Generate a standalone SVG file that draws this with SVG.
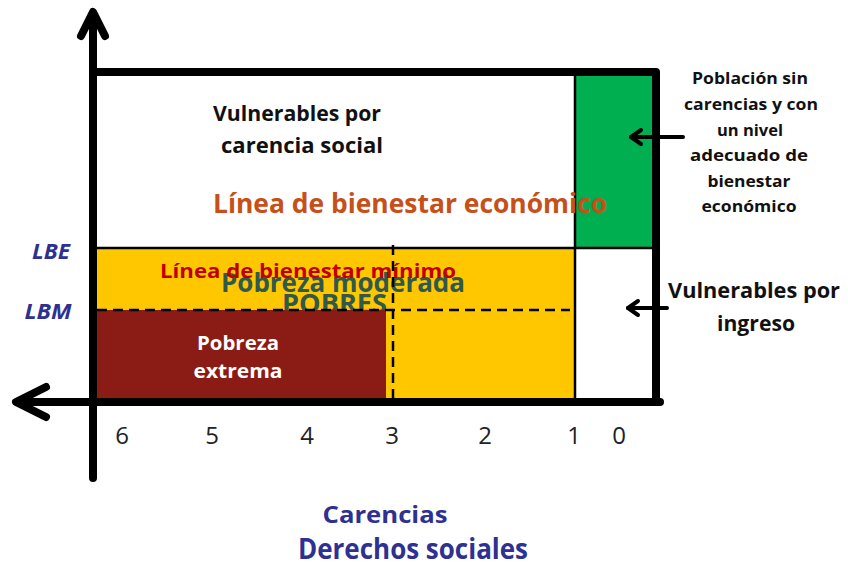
<svg xmlns="http://www.w3.org/2000/svg" width="848" height="569" viewBox="0 0 848 569">
<style>
text{font-family:"Open Sans","Noto Sans","Liberation Sans",sans-serif;font-weight:bold}
.blk{fill:#111}
.wht{fill:#fff}
.blue{fill:#2E3192}
.num{font-weight:normal;fill:#222;font-size:24px}
.ax{stroke:#000;stroke-width:8;fill:none;stroke-linecap:round;stroke-linejoin:round}
.ptr{stroke:#000;stroke-width:4;fill:none;stroke-linecap:round;stroke-linejoin:round}
.dash{stroke:#000;stroke-width:2.5;stroke-dasharray:10 6;fill:none}
.rt{font-size:16px;fill:#111}
</style>
<rect width="848" height="569" fill="#fff"/>
<g id="region-sin-carencias">
<rect x="575" y="76" width="78" height="171" fill="#00B050"/>
</g>
<g id="region-pobreza-moderada">
<rect x="97" y="249" width="477" height="150" fill="#FFC700"/>
<text x="221" y="292" font-size="27" fill="#30594C" textLength="244" lengthAdjust="spacingAndGlyphs">Pobreza moderada</text>
<text x="282" y="313" font-size="27" fill="#30594C" textLength="105" lengthAdjust="spacingAndGlyphs">POBRES</text>
<text x="160" y="278" font-size="20" fill="#C00000" textLength="296" lengthAdjust="spacingAndGlyphs">Línea de bienestar mínimo</text>
</g>
<g id="region-pobreza-extrema">
<rect x="97" y="310" width="289" height="89" fill="#8A1C15"/>
<text x="238" y="350" font-size="19" class="wht" text-anchor="middle" textLength="82" lengthAdjust="spacingAndGlyphs">Pobreza</text>
<text x="238" y="378" font-size="19" class="wht" text-anchor="middle" textLength="89" lengthAdjust="spacingAndGlyphs">extrema</text>
</g>
<g id="frame">
<rect x="93" y="72" width="563" height="330" fill="none" stroke="#000" stroke-width="8" stroke-linejoin="round"/>
<line x1="575" y1="75" x2="575" y2="399" stroke="#000" stroke-width="2.5"/>
<line x1="96" y1="248" x2="653" y2="248" stroke="#000" stroke-width="2.5"/>
<line x1="97" y1="310" x2="570" y2="310" class="dash"/>
<line x1="393" y1="245" x2="393" y2="399" class="dash"/>
</g>
<g id="region-vulnerables-carencia">
<text x="297" y="121" font-size="21" class="blk" text-anchor="middle" textLength="168" lengthAdjust="spacingAndGlyphs">Vulnerables por</text>
<text x="302" y="153" font-size="21" class="blk" text-anchor="middle" textLength="162" lengthAdjust="spacingAndGlyphs">carencia social</text>
<text x="410" y="213" font-size="26" fill="#C5501A" text-anchor="middle" textLength="394" lengthAdjust="spacingAndGlyphs">Línea de bienestar económico</text>
</g>
<g id="axis-labels">
<text x="51" y="259" font-size="21" font-style="italic" class="blue" text-anchor="middle" textLength="38" lengthAdjust="spacingAndGlyphs">LBE</text>
<text x="48" y="319" font-size="21" font-style="italic" class="blue" text-anchor="middle" textLength="47" lengthAdjust="spacingAndGlyphs">LBM</text>
<text x="122" y="444" class="num" text-anchor="middle">6</text>
<text x="212" y="444" class="num" text-anchor="middle">5</text>
<text x="307" y="444" class="num" text-anchor="middle">4</text>
<text x="392" y="444" class="num" text-anchor="middle">3</text>
<text x="485" y="444" class="num" text-anchor="middle">2</text>
<text x="574" y="444" class="num" text-anchor="middle">1</text>
<text x="619" y="444" class="num" text-anchor="middle">0</text>
<text x="385" y="523" font-size="23" class="blue" text-anchor="middle" textLength="125" lengthAdjust="spacingAndGlyphs">Carencias</text>
<text x="413" y="559" font-size="28" class="blue" text-anchor="middle" textLength="230" lengthAdjust="spacingAndGlyphs">Derechos sociales</text>
</g>
<g id="note-sin-carencias">
<text x="750" y="84" class="rt" text-anchor="middle" textLength="116" lengthAdjust="spacingAndGlyphs">Población sin</text>
<text x="751" y="110" class="rt" text-anchor="middle" textLength="134" lengthAdjust="spacingAndGlyphs">carencias y con</text>
<text x="750" y="136" class="rt" text-anchor="middle" textLength="66" lengthAdjust="spacingAndGlyphs">un nivel</text>
<text x="749" y="161" class="rt" text-anchor="middle" textLength="118" lengthAdjust="spacingAndGlyphs">adecuado de</text>
<text x="749" y="187" class="rt" text-anchor="middle" textLength="83" lengthAdjust="spacingAndGlyphs">bienestar</text>
<text x="749" y="212" class="rt" text-anchor="middle" textLength="95" lengthAdjust="spacingAndGlyphs">económico</text>
</g>
<g id="note-vulnerables-ingreso">
<text x="754" y="298" font-size="21" class="blk" text-anchor="middle" textLength="172" lengthAdjust="spacingAndGlyphs">Vulnerables por</text>
<text x="756" y="331" font-size="21" class="blk" text-anchor="middle" textLength="78" lengthAdjust="spacingAndGlyphs">ingreso</text>
</g>
<g id="connectors">
<path class="ax" d="M93 478 V14"/>
<path class="ax" d="M81 36 L93 12 L105 36"/>
<path class="ax" d="M660 402 H18"/>
<path class="ax" d="M46 387 L16 402 L46 417"/>
<path class="ptr" d="M683 137 H631"/>
<path class="ptr" d="M641 130 L631 137 L641 144"/>
<path class="ptr" d="M667 308 H628"/>
<path class="ptr" d="M638 301 L628 308 L638 315"/>
</g>
</svg>
